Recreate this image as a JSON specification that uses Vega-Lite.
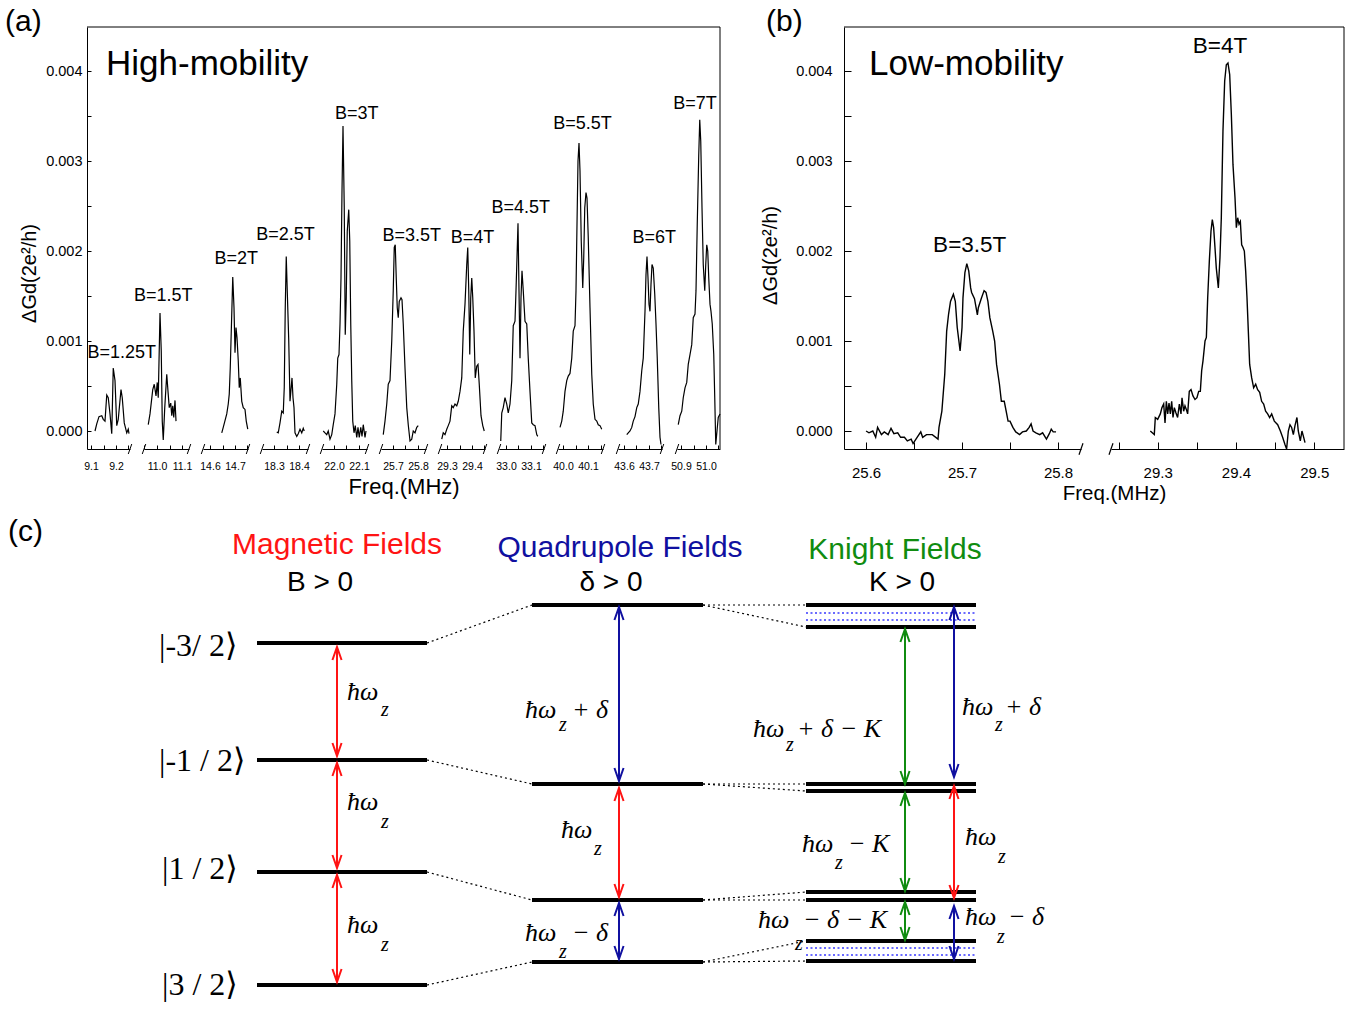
{
  "$schema": "https://vega.github.io/schema/vega-lite/v6.json",
  "padding": {"left": 5, "top": 6, "right": 0, "bottom": 0},
  "background": "white",
  "config": {
    "font": "Liberation Sans",
    "view": {"stroke": null},
    "axis": {"grid": false, "domainColor": "#000", "tickColor": "#000", "labelColor": "#000", "titleColor": "#000", "labelFlush": false, "labelOverlap": false, "titleFontWeight": "normal", "domainWidth": 1, "tickWidth": 1, "labelFont": "Liberation Sans", "titleFont": "Liberation Sans"},
    "axisX": {"tickSize": -4, "labelPadding": 16, "labelFontSize": 10.5},
    "title": {"fontSize": 30, "fontWeight": "normal", "anchor": "start", "frame": "group", "color": "#000", "offset": -10, "baseline": "alphabetic", "font": "Liberation Sans"}
  },
  "datasets": {
    "frameA": [
      {"kind":"frame","x":0,"x2":1,"v":0.00449,"v2":0.00449},
      {"kind":"frame","x":1,"x2":1,"v":-0.0002,"v2":0.00449},
      {"kind":"title","x":0.03,"v":0.00408,"t":"High-mobility"}
    ],
    "frameB": [
      {"kind":"frame","x":0,"x2":1,"v":0.00449,"v2":0.00449},
      {"kind":"frame","x":1,"x2":1,"v":-0.0002,"v2":0.00449},
      {"kind":"title","x":0.05,"v":0.00408,"t":"Low-mobility"}
    ],
    "specA": [
      {"B":"1.25","f":9.116,"v":0},{"B":"1.25","f":9.123,"v":0.00008},{"B":"1.25","f":9.132,"v":0.00016},{"B":"1.25","f":9.143,"v":0.00017},{"B":"1.25","f":9.149,"v":0.00013},{"B":"1.25","f":9.156,"v":0.00011},{"B":"1.25","f":9.163,"v":0.0004},{"B":"1.25","f":9.169,"v":0.00037},{"B":"1.25","f":9.176,"v":0.00019},{"B":"1.25","f":9.183,"v":-0.00003},{"B":"1.25","f":9.189,"v":0.0007},{"B":"1.25","f":9.196,"v":0.00056},{"B":"1.25","f":9.203,"v":0.00006},{"B":"1.25","f":9.209,"v":0.00013},{"B":"1.25","f":9.22,"v":0.00046},{"B":"1.25","f":9.225,"v":0.00037},{"B":"1.25","f":9.233,"v":0.00009},{"B":"1.25","f":9.243,"v":-0.00002},{"B":"1.25","f":9.249,"v":0.00002},{"B":"1.25","f":9.252,"v":-0.00003},
      {"B":"1.5","f":10.965,"v":0.00007},{"B":"1.5","f":10.972,"v":0.00019},{"B":"1.5","f":10.983,"v":0.00046},{"B":"1.5","f":10.989,"v":0.00052},{"B":"1.5","f":10.996,"v":0.00039},{"B":"1.5","f":11.001,"v":0.00054},{"B":"1.5","f":11.005,"v":0.00037},{"B":"1.5","f":11.012,"v":0.00131},{"B":"1.5","f":11.017,"v":0.00089},{"B":"1.5","f":11.021,"v":0.00011},{"B":"1.5","f":11.025,"v":-0.0001},{"B":"1.5","f":11.031,"v":0.00026},{"B":"1.5","f":11.039,"v":0.00063},{"B":"1.5","f":11.044,"v":0.00044},{"B":"1.5","f":11.049,"v":0.00026},{"B":"1.5","f":11.055,"v":0.00031},{"B":"1.5","f":11.059,"v":0.00017},{"B":"1.5","f":11.063,"v":0.00028},{"B":"1.5","f":11.067,"v":0.00015},{"B":"1.5","f":11.072,"v":0.00034},{"B":"1.5","f":11.076,"v":0.00011},
      {"B":"2","f":14.647,"v":-0.00002},{"B":"2","f":14.653,"v":0.00004},{"B":"2","f":14.667,"v":0.00019},{"B":"2","f":14.673,"v":0.0003},{"B":"2","f":14.677,"v":0.00041},{"B":"2","f":14.681,"v":0.0007},{"B":"2","f":14.687,"v":0.0013},{"B":"2","f":14.691,"v":0.00171},{"B":"2","f":14.696,"v":0.00137},{"B":"2","f":14.7,"v":0.00087},{"B":"2","f":14.704,"v":0.00115},{"B":"2","f":14.708,"v":0.00104},{"B":"2","f":14.713,"v":0.00078},{"B":"2","f":14.717,"v":0.00048},{"B":"2","f":14.721,"v":0.00059},{"B":"2","f":14.727,"v":0.00033},{"B":"2","f":14.733,"v":0.00026},{"B":"2","f":14.74,"v":0.00024},{"B":"2","f":14.745,"v":0.00011},{"B":"2","f":14.751,"v":0.00002},
      {"B":"2.5","f":18.311,"v":-0.00001},{"B":"2.5","f":18.317,"v":-0.00002},{"B":"2.5","f":18.324,"v":0.00009},{"B":"2.5","f":18.331,"v":0.00022},{"B":"2.5","f":18.337,"v":0.0002},{"B":"2.5","f":18.341,"v":0.00048},{"B":"2.5","f":18.345,"v":0.00137},{"B":"2.5","f":18.349,"v":0.00194},{"B":"2.5","f":18.353,"v":0.00156},{"B":"2.5","f":18.359,"v":0.001},{"B":"2.5","f":18.364,"v":0.00033},{"B":"2.5","f":18.368,"v":0.00046},{"B":"2.5","f":18.372,"v":0.00059},{"B":"2.5","f":18.376,"v":0.00037},{"B":"2.5","f":18.38,"v":0.00026},{"B":"2.5","f":18.384,"v":-0.00002},{"B":"2.5","f":18.391,"v":-0.00006},{"B":"2.5","f":18.397,"v":-0.00003},{"B":"2.5","f":18.404,"v":0.00002},{"B":"2.5","f":18.411,"v":-0.00002},{"B":"2.5","f":18.417,"v":0.00003},{"B":"2.5","f":18.421,"v":0},
      {"B":"3","f":21.957,"v":0},{"B":"3","f":21.964,"v":-0.00002},{"B":"3","f":21.971,"v":-0.00004},{"B":"3","f":21.977,"v":0},{"B":"3","f":21.984,"v":-0.00009},{"B":"3","f":21.991,"v":-0.00004},{"B":"3","f":21.997,"v":0.00007},{"B":"3","f":22.004,"v":0.00019},{"B":"3","f":22.011,"v":0.00052},{"B":"3","f":22.015,"v":0.00081},{"B":"3","f":22.02,"v":0.00085},{"B":"3","f":22.024,"v":0.00119},{"B":"3","f":22.028,"v":0.0017},{"B":"3","f":22.032,"v":0.00267},{"B":"3","f":22.036,"v":0.00339},{"B":"3","f":22.041,"v":0.00248},{"B":"3","f":22.045,"v":0.00107},{"B":"3","f":22.049,"v":0.00148},{"B":"3","f":22.053,"v":0.00222},{"B":"3","f":22.059,"v":0.00246},{"B":"3","f":22.063,"v":0.00211},{"B":"3","f":22.067,"v":0.00119},{"B":"3","f":22.071,"v":0.00056},{"B":"3","f":22.075,"v":0.00011},{"B":"3","f":22.08,"v":-0.00002},{"B":"3","f":22.085,"v":0.00006},{"B":"3","f":22.091,"v":-0.00007},{"B":"3","f":22.096,"v":0.00004},{"B":"3","f":22.101,"v":-0.00007},{"B":"3","f":22.107,"v":0.00004},{"B":"3","f":22.112,"v":-0.00006},{"B":"3","f":22.117,"v":0.00007},{"B":"3","f":22.124,"v":-0.00007},{"B":"3","f":22.128,"v":0},
      {"B":"3.5","f":25.661,"v":-0.00004},{"B":"3.5","f":25.668,"v":0.00011},{"B":"3.5","f":25.675,"v":0.0003},{"B":"3.5","f":25.681,"v":0.00052},{"B":"3.5","f":25.688,"v":0.00056},{"B":"3.5","f":25.695,"v":0.001},{"B":"3.5","f":25.701,"v":0.00156},{"B":"3.5","f":25.705,"v":0.00204},{"B":"3.5","f":25.709,"v":0.00207},{"B":"3.5","f":25.713,"v":0.0017},{"B":"3.5","f":25.717,"v":0.00137},{"B":"3.5","f":25.721,"v":0.00126},{"B":"3.5","f":25.725,"v":0.00144},{"B":"3.5","f":25.732,"v":0.00148},{"B":"3.5","f":25.736,"v":0.00146},{"B":"3.5","f":25.741,"v":0.00119},{"B":"3.5","f":25.748,"v":0.0007},{"B":"3.5","f":25.755,"v":0.00026},{"B":"3.5","f":25.761,"v":0.00007},{"B":"3.5","f":25.768,"v":-0.00011},{"B":"3.5","f":25.775,"v":-0.00009},{"B":"3.5","f":25.781,"v":0},{"B":"3.5","f":25.788,"v":-0.00002},{"B":"3.5","f":25.795,"v":0.00004},{"B":"3.5","f":25.801,"v":0.00006},
      {"B":"4","f":29.279,"v":-0.00009},{"B":"4","f":29.285,"v":-0.00002},{"B":"4","f":29.292,"v":-0.00004},{"B":"4","f":29.299,"v":0.00002},{"B":"4","f":29.305,"v":0.00006},{"B":"4","f":29.312,"v":0.00011},{"B":"4","f":29.319,"v":0.00028},{"B":"4","f":29.325,"v":0.00026},{"B":"4","f":29.332,"v":0.0003},{"B":"4","f":29.339,"v":0.00028},{"B":"4","f":29.345,"v":0.00033},{"B":"4","f":29.352,"v":0.00044},{"B":"4","f":29.359,"v":0.00059},{"B":"4","f":29.365,"v":0.00111},{"B":"4","f":29.372,"v":0.00141},{"B":"4","f":29.379,"v":0.00185},{"B":"4","f":29.383,"v":0.00204},{"B":"4","f":29.387,"v":0.00156},{"B":"4","f":29.391,"v":0.00085},{"B":"4","f":29.395,"v":0.00148},{"B":"4","f":29.399,"v":0.0017},{"B":"4","f":29.403,"v":0.00148},{"B":"4","f":29.408,"v":0.00111},{"B":"4","f":29.413,"v":0.00059},{"B":"4","f":29.419,"v":0.00072},{"B":"4","f":29.424,"v":0.00074},{"B":"4","f":29.429,"v":0.00052},{"B":"4","f":29.436,"v":0.00017},{"B":"4","f":29.443,"v":0.00006},{"B":"4","f":29.449,"v":0},
      {"B":"4.5","f":32.979,"v":-0.00011},{"B":"4.5","f":32.983,"v":0.0002},{"B":"4.5","f":32.989,"v":0.00026},{"B":"4.5","f":32.996,"v":0.00037},{"B":"4.5","f":33.003,"v":0.0003},{"B":"4.5","f":33.009,"v":0.0002},{"B":"4.5","f":33.016,"v":0.0003},{"B":"4.5","f":33.023,"v":0.00056},{"B":"4.5","f":33.029,"v":0.00117},{"B":"4.5","f":33.036,"v":0.00122},{"B":"4.5","f":33.04,"v":0.00156},{"B":"4.5","f":33.044,"v":0.00193},{"B":"4.5","f":33.048,"v":0.00231},{"B":"4.5","f":33.052,"v":0.00156},{"B":"4.5","f":33.056,"v":0.00081},{"B":"4.5","f":33.06,"v":0.00148},{"B":"4.5","f":33.064,"v":0.00178},{"B":"4.5","f":33.069,"v":0.00156},{"B":"4.5","f":33.076,"v":0.00122},{"B":"4.5","f":33.083,"v":0.00119},{"B":"4.5","f":33.089,"v":0.00081},{"B":"4.5","f":33.096,"v":0.00044},{"B":"4.5","f":33.103,"v":0.00009},{"B":"4.5","f":33.109,"v":0.00007},{"B":"4.5","f":33.116,"v":0.00006},{"B":"4.5","f":33.123,"v":-0.00004},{"B":"4.5","f":33.127,"v":-0.00006},
      {"B":"5.5","f":39.988,"v":0.00004},{"B":"5.5","f":39.995,"v":0.00011},{"B":"5.5","f":40.001,"v":0.00022},{"B":"5.5","f":40.008,"v":0.00044},{"B":"5.5","f":40.015,"v":0.00056},{"B":"5.5","f":40.021,"v":0.00061},{"B":"5.5","f":40.028,"v":0.00064},{"B":"5.5","f":40.035,"v":0.00081},{"B":"5.5","f":40.041,"v":0.00111},{"B":"5.5","f":40.048,"v":0.00117},{"B":"5.5","f":40.052,"v":0.00156},{"B":"5.5","f":40.056,"v":0.0023},{"B":"5.5","f":40.06,"v":0.003},{"B":"5.5","f":40.064,"v":0.0032},{"B":"5.5","f":40.068,"v":0.00289},{"B":"5.5","f":40.073,"v":0.00211},{"B":"5.5","f":40.079,"v":0.00159},{"B":"5.5","f":40.083,"v":0.00193},{"B":"5.5","f":40.087,"v":0.00248},{"B":"5.5","f":40.092,"v":0.00265},{"B":"5.5","f":40.096,"v":0.00259},{"B":"5.5","f":40.101,"v":0.00215},{"B":"5.5","f":40.108,"v":0.00137},{"B":"5.5","f":40.115,"v":0.00063},{"B":"5.5","f":40.121,"v":0.0003},{"B":"5.5","f":40.128,"v":0.00013},{"B":"5.5","f":40.135,"v":0.00011},{"B":"5.5","f":40.141,"v":0.00007},{"B":"5.5","f":40.148,"v":0.00006},{"B":"5.5","f":40.155,"v":0.00002},
      {"B":"6","f":43.611,"v":-0.00004},{"B":"6","f":43.617,"v":-0.00002},{"B":"6","f":43.624,"v":0},{"B":"6","f":43.631,"v":0.00004},{"B":"6","f":43.637,"v":0.00011},{"B":"6","f":43.644,"v":0.00016},{"B":"6","f":43.651,"v":0.00026},{"B":"6","f":43.657,"v":0.0003},{"B":"6","f":43.664,"v":0.00044},{"B":"6","f":43.671,"v":0.00067},{"B":"6","f":43.677,"v":0.00081},{"B":"6","f":43.684,"v":0.00133},{"B":"6","f":43.688,"v":0.00174},{"B":"6","f":43.692,"v":0.00194},{"B":"6","f":43.696,"v":0.0017},{"B":"6","f":43.7,"v":0.00141},{"B":"6","f":43.704,"v":0.00133},{"B":"6","f":43.708,"v":0.00163},{"B":"6","f":43.712,"v":0.00185},{"B":"6","f":43.717,"v":0.00181},{"B":"6","f":43.723,"v":0.00152},{"B":"6","f":43.728,"v":0.00119},{"B":"6","f":43.733,"v":0.00081},{"B":"6","f":43.739,"v":0.00026},{"B":"6","f":43.744,"v":-0.00007},{"B":"6","f":43.748,"v":-0.00015},
      {"B":"7","f":50.889,"v":0.00007},{"B":"7","f":50.896,"v":0.00017},{"B":"7","f":50.903,"v":0.00022},{"B":"7","f":50.909,"v":0.00037},{"B":"7","f":50.916,"v":0.00048},{"B":"7","f":50.923,"v":0.00054},{"B":"7","f":50.929,"v":0.00074},{"B":"7","f":50.936,"v":0.00085},{"B":"7","f":50.943,"v":0.00096},{"B":"7","f":50.949,"v":0.00126},{"B":"7","f":50.956,"v":0.0013},{"B":"7","f":50.96,"v":0.00156},{"B":"7","f":50.965,"v":0.0023},{"B":"7","f":50.971,"v":0.00307},{"B":"7","f":50.975,"v":0.00346},{"B":"7","f":50.979,"v":0.00322},{"B":"7","f":50.984,"v":0.00248},{"B":"7","f":50.989,"v":0.00185},{"B":"7","f":50.995,"v":0.00156},{"B":"7","f":50.999,"v":0.00185},{"B":"7","f":51.003,"v":0.00207},{"B":"7","f":51.007,"v":0.002},{"B":"7","f":51.011,"v":0.0017},{"B":"7","f":51.016,"v":0.00141},{"B":"7","f":51.02,"v":0.00133},{"B":"7","f":51.025,"v":0.00119},{"B":"7","f":51.031,"v":0.00085},{"B":"7","f":51.035,"v":0.00037},{"B":"7","f":51.039,"v":-0.00015},{"B":"7","f":51.044,"v":0},{"B":"7","f":51.049,"v":0.00015},{"B":"7","f":51.056,"v":0.00019}
    ],
    "labA": [
      {"B":"1.25","f":9.223,"v":0.00087,"t":"B=1.25T"},{"B":"1.5","f":11.025,"v":0.0015,"t":"B=1.5T"},{"B":"2","f":14.705,"v":0.00191,"t":"B=2T"},{"B":"2.5","f":18.346,"v":0.00218,"t":"B=2.5T"},{"B":"3","f":22.091,"v":0.00352,"t":"B=3T"},{"B":"3.5","f":25.775,"v":0.00217,"t":"B=3.5T"},{"B":"4","f":29.402,"v":0.00215,"t":"B=4T"},{"B":"4.5","f":33.059,"v":0.00248,"t":"B=4.5T"},{"B":"5.5","f":40.078,"v":0.00341,"t":"B=5.5T"},{"B":"6","f":43.721,"v":0.00215,"t":"B=6T"},{"B":"7","f":50.956,"v":0.00363,"t":"B=7T"}
    ],
    "brkA": [
      {"B":"1.25","f":9.256,"v":-0.0002},{"B":"1.5","f":10.948,"v":-0.0002},{"B":"1.5","f":11.128,"v":-0.0002},{"B":"2","f":14.572,"v":-0.0002},{"B":"2","f":14.752,"v":-0.0002},{"B":"2.5","f":18.252,"v":-0.0002},{"B":"2.5","f":18.436,"v":-0.0002},{"B":"3","f":21.952,"v":-0.0002},{"B":"3","f":22.132,"v":-0.0002},{"B":"3.5","f":25.652,"v":-0.0002},{"B":"3.5","f":25.832,"v":-0.0002},{"B":"4","f":29.272,"v":-0.0002},{"B":"4","f":29.452,"v":-0.0002},{"B":"4.5","f":32.972,"v":-0.0002},{"B":"4.5","f":33.152,"v":-0.0002},{"B":"5.5","f":39.98,"v":-0.0002},{"B":"5.5","f":40.16,"v":-0.0002},{"B":"6","f":43.576,"v":-0.0002},{"B":"6","f":43.752,"v":-0.0002},{"B":"7","f":50.884,"v":-0.0002}
    ],
    "specB": [
      {"B":"3.5","f":25.6,"v":0},{"B":"3.5","f":25.603,"v":-0.00002},{"B":"3.5","f":25.607,"v":0},{"B":"3.5","f":25.61,"v":-0.00007},{"B":"3.5","f":25.612,"v":0.00004},{"B":"3.5","f":25.616,"v":-0.00004},{"B":"3.5","f":25.619,"v":-0.00001},{"B":"3.5","f":25.623,"v":-0.00004},{"B":"3.5","f":25.626,"v":0.00003},{"B":"3.5","f":25.629,"v":-0.00003},{"B":"3.5","f":25.633,"v":-0.00002},{"B":"3.5","f":25.636,"v":-0.00007},{"B":"3.5","f":25.64,"v":-0.00007},{"B":"3.5","f":25.643,"v":-0.00011},{"B":"3.5","f":25.647,"v":-0.00009},{"B":"3.5","f":25.649,"v":-0.00014},{"B":"3.5","f":25.652,"v":-0.00009},{"B":"3.5","f":25.657,"v":-0.00001},{"B":"3.5","f":25.659,"v":-0.00007},{"B":"3.5","f":25.663,"v":-0.00004},{"B":"3.5","f":25.666,"v":-0.00004},{"B":"3.5","f":25.669,"v":-0.00004},{"B":"3.5","f":25.675,"v":-0.00009},{"B":"3.5","f":25.676,"v":0.00004},{"B":"3.5","f":25.679,"v":0.00022},{"B":"3.5","f":25.682,"v":0.00063},{"B":"3.5","f":25.684,"v":0.00111},{"B":"3.5","f":25.686,"v":0.0013},{"B":"3.5","f":25.688,"v":0.00144},{"B":"3.5","f":25.691,"v":0.00152},{"B":"3.5","f":25.693,"v":0.00144},{"B":"3.5","f":25.695,"v":0.00115},{"B":"3.5","f":25.698,"v":0.00089},{"B":"3.5","f":25.7,"v":0.00115},{"B":"3.5","f":25.701,"v":0.00148},{"B":"3.5","f":25.703,"v":0.00176},{"B":"3.5","f":25.705,"v":0.00186},{"B":"3.5","f":25.707,"v":0.00178},{"B":"3.5","f":25.709,"v":0.00159},{"B":"3.5","f":25.71,"v":0.00154},{"B":"3.5","f":25.713,"v":0.00147},{"B":"3.5","f":25.716,"v":0.00129},{"B":"3.5","f":25.717,"v":0.00137},{"B":"3.5","f":25.72,"v":0.00147},{"B":"3.5","f":25.723,"v":0.00156},{"B":"3.5","f":25.725,"v":0.00154},{"B":"3.5","f":25.727,"v":0.00144},{"B":"3.5","f":25.729,"v":0.00126},{"B":"3.5","f":25.732,"v":0.00111},{"B":"3.5","f":25.734,"v":0.001},{"B":"3.5","f":25.736,"v":0.00074},{"B":"3.5","f":25.739,"v":0.00052},{"B":"3.5","f":25.741,"v":0.00033},{"B":"3.5","f":25.744,"v":0.00033},{"B":"3.5","f":25.746,"v":0.00022},{"B":"3.5","f":25.748,"v":0.00011},{"B":"3.5","f":25.75,"v":0.00011},{"B":"3.5","f":25.753,"v":0.00004},{"B":"3.5","f":25.756,"v":-0.00001},{"B":"3.5","f":25.76,"v":-0.00004},{"B":"3.5","f":25.763,"v":-0.00001},{"B":"3.5","f":25.767,"v":0},{"B":"3.5","f":25.77,"v":0.00004},{"B":"3.5","f":25.772,"v":0.00008},{"B":"3.5","f":25.774,"v":0},{"B":"3.5","f":25.777,"v":-0.00002},{"B":"3.5","f":25.781,"v":-0.00004},{"B":"3.5","f":25.784,"v":-0.00002},{"B":"3.5","f":25.788,"v":-0.00009},{"B":"3.5","f":25.791,"v":-0.00003},{"B":"3.5","f":25.793,"v":0.00002},{"B":"3.5","f":25.795,"v":-0.00001},{"B":"3.5","f":25.798,"v":-0.00001},
      {"B":"4","f":29.2906,"v":0},{"B":"4","f":29.2957,"v":-0.00004},{"B":"4","f":29.297,"v":0.00015},{"B":"4","f":29.3,"v":0.00013},{"B":"4","f":29.3034,"v":0.00019},{"B":"4","f":29.3055,"v":0.00026},{"B":"4","f":29.3077,"v":0.0003},{"B":"4","f":29.3094,"v":0.00009},{"B":"4","f":29.3111,"v":0.00033},{"B":"4","f":29.3128,"v":0.00019},{"B":"4","f":29.3145,"v":0.00031},{"B":"4","f":29.3162,"v":0.00019},{"B":"4","f":29.3179,"v":0.00033},{"B":"4","f":29.3196,"v":0.00015},{"B":"4","f":29.3213,"v":0.00026},{"B":"4","f":29.3234,"v":0.0002},{"B":"4","f":29.3255,"v":0.00015},{"B":"4","f":29.3277,"v":0.0003},{"B":"4","f":29.3298,"v":0.00019},{"B":"4","f":29.3311,"v":0.00037},{"B":"4","f":29.3332,"v":0.00022},{"B":"4","f":29.3349,"v":0.00028},{"B":"4","f":29.3366,"v":0.00024},{"B":"4","f":29.3383,"v":0.00019},{"B":"4","f":29.3404,"v":0.00044},{"B":"4","f":29.3426,"v":0.00046},{"B":"4","f":29.3451,"v":0.00039},{"B":"4","f":29.3477,"v":0.00035},{"B":"4","f":29.3502,"v":0.00037},{"B":"4","f":29.3524,"v":0.00044},{"B":"4","f":29.3545,"v":0.00044},{"B":"4","f":29.3562,"v":0.00067},{"B":"4","f":29.3579,"v":0.00078},{"B":"4","f":29.3605,"v":0.001},{"B":"4","f":29.3622,"v":0.00104},{"B":"4","f":29.3639,"v":0.00148},{"B":"4","f":29.366,"v":0.00189},{"B":"4","f":29.3681,"v":0.00222},{"B":"4","f":29.3698,"v":0.00235},{"B":"4","f":29.3715,"v":0.00226},{"B":"4","f":29.3732,"v":0.00204},{"B":"4","f":29.3749,"v":0.00181},{"B":"4","f":29.3775,"v":0.00159},{"B":"4","f":29.3796,"v":0.00193},{"B":"4","f":29.3813,"v":0.00237},{"B":"4","f":29.3834,"v":0.00333},{"B":"4","f":29.3856,"v":0.00389},{"B":"4","f":29.3877,"v":0.00407},{"B":"4","f":29.3898,"v":0.00409},{"B":"4","f":29.392,"v":0.00396},{"B":"4","f":29.3941,"v":0.00352},{"B":"4","f":29.3962,"v":0.00296},{"B":"4","f":29.3988,"v":0.00259},{"B":"4","f":29.4005,"v":0.00226},{"B":"4","f":29.4022,"v":0.00237},{"B":"4","f":29.4039,"v":0.0023},{"B":"4","f":29.4056,"v":0.00233},{"B":"4","f":29.4073,"v":0.00207},{"B":"4","f":29.409,"v":0.00204},{"B":"4","f":29.4107,"v":0.002},{"B":"4","f":29.4124,"v":0.00178},{"B":"4","f":29.4141,"v":0.00148},{"B":"4","f":29.4158,"v":0.00111},{"B":"4","f":29.4175,"v":0.00074},{"B":"4","f":29.4201,"v":0.00059},{"B":"4","f":29.4226,"v":0.00048},{"B":"4","f":29.4252,"v":0.00052},{"B":"4","f":29.4277,"v":0.00046},{"B":"4","f":29.4303,"v":0.00043},{"B":"4","f":29.4328,"v":0.00033},{"B":"4","f":29.4354,"v":0.0003},{"B":"4","f":29.4379,"v":0.00022},{"B":"4","f":29.4405,"v":0.00019},{"B":"4","f":29.443,"v":0.00015},{"B":"4","f":29.4456,"v":0.00019},{"B":"4","f":29.449,"v":0.00011},{"B":"4","f":29.4533,"v":0.00007},{"B":"4","f":29.4567,"v":0},{"B":"4","f":29.4596,"v":-0.00007},{"B":"4","f":29.4626,"v":-0.00015},{"B":"4","f":29.4647,"v":-0.0002},{"B":"4","f":29.4669,"v":0},{"B":"4","f":29.469,"v":0.00007},{"B":"4","f":29.4711,"v":0.00004},{"B":"4","f":29.4733,"v":-0.00004},{"B":"4","f":29.4754,"v":0.00006},{"B":"4","f":29.4779,"v":0.00015},{"B":"4","f":29.4796,"v":0},{"B":"4","f":29.4822,"v":-0.00011},{"B":"4","f":29.4843,"v":0},{"B":"4","f":29.4865,"v":-0.00007},{"B":"4","f":29.4882,"v":-0.00013}
    ],
    "labB": [
      {"B":"3.5","f":25.708,"v":0.00207,"t":"B=3.5T"},{"B":"4","f":29.3796,"v":0.00428,"t":"B=4T"}
    ],
    "brkB": [
      {"B":"3.5","f":25.824,"v":-0.0002},{"B":"4","f":29.2404,"v":-0.0002}
    ],
    "levels": [
      {"x1":25.7,"x2":42.7,"e":36.8},{"x1":25.7,"x2":42.7,"e":25.1},{"x1":25.7,"x2":42.7,"e":13.9},{"x1":25.7,"x2":42.7,"e":2.6},
      {"x1":53.2,"x2":70.3,"e":40.6},{"x1":53.2,"x2":70.3,"e":22.7},{"x1":53.2,"x2":70.3,"e":11.1},{"x1":53.2,"x2":70.3,"e":4.9},
      {"x1":80.6,"x2":97.6,"e":40.6},{"x1":80.6,"x2":97.6,"e":38.4},{"x1":80.6,"x2":97.6,"e":22.7},{"x1":80.6,"x2":97.6,"e":22.0},{"x1":80.6,"x2":97.6,"e":11.9},{"x1":80.6,"x2":97.6,"e":11.1},{"x1":80.6,"x2":97.6,"e":7.0},{"x1":80.6,"x2":97.6,"e":5.0}
    ],
    "sublevels": [
      {"x1":80.6,"x2":97.6,"e":39.8},{"x1":80.6,"x2":97.6,"e":39.1},{"x1":80.6,"x2":97.6,"e":6.3},{"x1":80.6,"x2":97.6,"e":5.6}
    ],
    "links": [
      {"x1":42.7,"e1":36.8,"x2":53.2,"e2":40.6},{"x1":42.7,"e1":25.1,"x2":53.2,"e2":22.7},{"x1":42.7,"e1":13.9,"x2":53.2,"e2":11.1},{"x1":42.7,"e1":2.6,"x2":53.2,"e2":4.9},
      {"x1":70.3,"e1":40.6,"x2":80.6,"e2":40.6},{"x1":70.3,"e1":40.6,"x2":80.6,"e2":38.4},{"x1":70.3,"e1":22.7,"x2":80.6,"e2":22.7},{"x1":70.3,"e1":22.7,"x2":80.6,"e2":22.0},{"x1":70.3,"e1":11.1,"x2":80.6,"e2":11.9},{"x1":70.3,"e1":11.1,"x2":80.6,"e2":11.1},{"x1":70.3,"e1":4.9,"x2":80.6,"e2":7.0},{"x1":70.3,"e1":4.9,"x2":80.6,"e2":5.0}
    ],
    "arrows": [
      {"x":33.7,"hi":36.4,"lo":25.5,"term":"Magnetic"},{"x":33.7,"hi":24.8,"lo":14.3,"term":"Magnetic"},{"x":33.7,"hi":13.6,"lo":2.9,"term":"Magnetic"},
      {"x":61.9,"hi":40.4,"lo":23.0,"term":"Quadrupole"},{"x":61.9,"hi":22.3,"lo":11.4,"term":"Magnetic"},{"x":61.9,"hi":10.8,"lo":5.2,"term":"Quadrupole"},
      {"x":90.5,"hi":38.2,"lo":22.7,"term":"Knight"},{"x":90.5,"hi":21.8,"lo":12.0,"term":"Knight"},{"x":90.5,"hi":10.9,"lo":7.1,"term":"Knight"},
      {"x":95.4,"hi":40.4,"lo":23.4,"term":"Quadrupole"},{"x":95.4,"hi":22.5,"lo":11.3,"term":"Magnetic"},{"x":95.4,"hi":10.5,"lo":5.2,"term":"Quadrupole"}
    ],
    "texts": [
      {"role":"panel","x":0.8,"e":47.9,"t":"(c)"},
      {"role":"header","x":33.7,"e":46.6,"t":"Magnetic Fields","term":"Magnetic"},
      {"role":"header","x":62.0,"e":46.3,"t":"Quadrupole Fields","term":"Quadrupole"},
      {"role":"header","x":89.5,"e":46.1,"t":"Knight Fields","term":"Knight"},
      {"role":"cond","x":32.0,"e":42.8,"t":"B > 0"},
      {"role":"cond","x":61.1,"e":42.8,"t":"δ > 0"},
      {"role":"cond","x":90.2,"e":42.8,"t":"K > 0"},
      {"role":"ket","x":15.9,"e":36.5,"t":"|-3/ 2⟩"},
      {"role":"ket","x":15.9,"e":25.0,"t":"|-1 / 2⟩"},
      {"role":"ket","x":16.2,"e":14.2,"t":"|1 / 2⟩"},
      {"role":"ket","x":16.2,"e":2.6,"t":"|3 / 2⟩"},
      {"role":"hw","x":34.7,"e":31.9,"t":"ħω"},{"role":"hw","x":34.7,"e":20.9,"t":"ħω"},{"role":"hw","x":34.7,"e":8.6,"t":"ħω"},
      {"role":"hw","x":52.5,"e":30.1,"t":"ħω"},{"role":"hw","x":56.1,"e":18.1,"t":"ħω"},{"role":"hw","x":52.5,"e":7.8,"t":"ħω"},
      {"role":"hw","x":75.3,"e":28.2,"t":"ħω"},{"role":"hw","x":96.2,"e":30.4,"t":"ħω"},{"role":"hw","x":80.2,"e":16.7,"t":"ħω"},
      {"role":"hw","x":96.5,"e":17.4,"t":"ħω"},{"role":"hw","x":75.8,"e":9.1,"t":"ħω"},{"role":"hw","x":96.5,"e":9.4,"t":"ħω"},
      {"role":"sub","x":38.1,"e":30.1,"t":"z"},{"role":"sub","x":38.1,"e":18.9,"t":"z"},{"role":"sub","x":38.1,"e":6.6,"t":"z"},
      {"role":"sub","x":55.9,"e":28.6,"t":"z"},{"role":"sub","x":59.4,"e":16.2,"t":"z"},{"role":"sub","x":55.9,"e":5.9,"t":"z"},
      {"role":"sub","x":78.6,"e":26.6,"t":"z"},{"role":"sub","x":99.5,"e":28.6,"t":"z"},{"role":"sub","x":83.5,"e":14.8,"t":"z"},
      {"role":"sub","x":99.8,"e":15.4,"t":"z"},{"role":"sub","x":79.5,"e":6.7,"t":"z"},{"role":"sub","x":99.7,"e":7.4,"t":"z"},
      {"role":"rest","x":57.2,"e":30.1,"t":"+ δ"},{"role":"rest","x":57.2,"e":7.8,"t":"− δ"},{"role":"rest","x":79.7,"e":28.2,"t":"+ δ − K"},
      {"role":"rest","x":100.5,"e":30.4,"t":"+ δ"},{"role":"rest","x":84.8,"e":16.7,"t":"− K"},{"role":"rest","x":80.3,"e":9.1,"t":"− δ − K"},
      {"role":"rest","x":100.8,"e":9.4,"t":"− δ"}
    ]
  },
  "vconcat": [
    {
      "hconcat": [
        {
          "title": {"text": "(a)", "dx": -82},
          "width": 633,
          "height": 422,
          "encoding": {
            "y": {"field": "v", "type": "quantitative", "scale": {"domain": [-0.0002, 0.00449], "nice": false, "zero": false},
              "axis": {"title": "ΔGd(2e²/h)", "titleFontSize": 20, "titlePadding": 6, "titleY": 246, "values": [0, 0.0005, 0.001, 0.0015, 0.002, 0.0025, 0.003, 0.0035, 0.004], "labelExpr": "round(datum.value*10000) % 10 == 0 ? format(datum.value, '.3f') : ''", "labelFontSize": 14.5, "tickSize": -4, "labelPadding": 9}}
          },
          "layer": [
            {
              "data": {"name": "frameA"},
              "encoding": {"x": {"field": "x", "type": "quantitative", "scale": {"domain": [0, 1], "nice": false, "zero": false}, "axis": null}},
              "layer": [
                {"transform": [{"filter": "datum.kind == 'frame'"}], "mark": {"type": "rule", "color": "#000", "strokeWidth": 1}, "encoding": {"x2": {"field": "x2"}, "y2": {"field": "v2"}}},
                {"transform": [{"filter": "datum.kind == 'title'"}], "mark": {"type": "text", "align": "left", "baseline": "middle", "fontSize": 35, "color": "#000"}, "encoding": {"text": {"field": "t"}}}
              ]
            },
            {"encoding": {"x": {"field": "f", "type": "quantitative", "scale": {"domain": [9.084, 9.256], "range": [0, 43], "nice": false, "zero": false}, "axis": {"orient": "bottom", "values": [9.1, 9.15, 9.2, 9.25], "labelExpr": "abs(datum.value*10 - round(datum.value*10)) < 0.001 ? format(datum.value, '.1f') : ''", "title": null}}},
             "layer": [
              {"data": {"name": "specA"}, "transform": [{"filter": "datum.B == '1.25'"}], "mark": {"type": "line", "color": "#000", "strokeWidth": 1.2}},
              {"data": {"name": "labA"}, "transform": [{"filter": "datum.B == '1.25'"}], "mark": {"type": "text", "fontSize": 18, "align": "center", "baseline": "middle", "color": "#000"}, "encoding": {"text": {"field": "t"}}},
              {"data": {"name": "brkA"}, "transform": [{"filter": "datum.B == '1.25'"}], "mark": {"type": "point", "shape": "M -0.35 1 L 0.35 -1", "filled": false, "color": "#000", "size": 100, "strokeWidth": 1, "opacity": 1}}
             ]},
            {"encoding": {"x": {"field": "f", "type": "quantitative", "scale": {"domain": [10.948, 11.128], "range": [57, 102], "nice": false, "zero": false}, "axis": {"orient": "bottom", "values": [10.95, 11.0, 11.05, 11.1], "labelExpr": "abs(datum.value*10 - round(datum.value*10)) < 0.001 ? format(datum.value, '.1f') : ''", "title": null}}},
             "layer": [
              {"data": {"name": "specA"}, "transform": [{"filter": "datum.B == '1.5'"}], "mark": {"type": "line", "color": "#000", "strokeWidth": 1.2}},
              {"data": {"name": "labA"}, "transform": [{"filter": "datum.B == '1.5'"}], "mark": {"type": "text", "fontSize": 18, "align": "center", "baseline": "middle", "color": "#000"}, "encoding": {"text": {"field": "t"}}},
              {"data": {"name": "brkA"}, "transform": [{"filter": "datum.B == '1.5'"}], "mark": {"type": "point", "shape": "M -0.35 1 L 0.35 -1", "filled": false, "color": "#000", "size": 100, "strokeWidth": 1, "opacity": 1}}
             ]},
            {"encoding": {"x": {"field": "f", "type": "quantitative", "scale": {"domain": [14.572, 14.752], "range": [116, 161], "nice": false, "zero": false}, "axis": {"orient": "bottom", "values": [14.6, 14.65, 14.7, 14.75], "labelExpr": "abs(datum.value*10 - round(datum.value*10)) < 0.001 ? format(datum.value, '.1f') : ''", "title": null}}},
             "layer": [
              {"data": {"name": "specA"}, "transform": [{"filter": "datum.B == '2'"}], "mark": {"type": "line", "color": "#000", "strokeWidth": 1.2}},
              {"data": {"name": "labA"}, "transform": [{"filter": "datum.B == '2'"}], "mark": {"type": "text", "fontSize": 18, "align": "center", "baseline": "middle", "color": "#000"}, "encoding": {"text": {"field": "t"}}},
              {"data": {"name": "brkA"}, "transform": [{"filter": "datum.B == '2'"}], "mark": {"type": "point", "shape": "M -0.35 1 L 0.35 -1", "filled": false, "color": "#000", "size": 100, "strokeWidth": 1, "opacity": 1}}
             ]},
            {"encoding": {"x": {"field": "f", "type": "quantitative", "scale": {"domain": [18.252, 18.436], "range": [175, 221], "nice": false, "zero": false}, "axis": {"orient": "bottom", "values": [18.3, 18.35, 18.4], "labelExpr": "abs(datum.value*10 - round(datum.value*10)) < 0.001 ? format(datum.value, '.1f') : ''", "title": null}}},
             "layer": [
              {"data": {"name": "specA"}, "transform": [{"filter": "datum.B == '2.5'"}], "mark": {"type": "line", "color": "#000", "strokeWidth": 1.2}},
              {"data": {"name": "labA"}, "transform": [{"filter": "datum.B == '2.5'"}], "mark": {"type": "text", "fontSize": 18, "align": "center", "baseline": "middle", "color": "#000"}, "encoding": {"text": {"field": "t"}}},
              {"data": {"name": "brkA"}, "transform": [{"filter": "datum.B == '2.5'"}], "mark": {"type": "point", "shape": "M -0.35 1 L 0.35 -1", "filled": false, "color": "#000", "size": 100, "strokeWidth": 1, "opacity": 1}}
             ]},
            {"encoding": {"x": {"field": "f", "type": "quantitative", "scale": {"domain": [21.952, 22.132], "range": [235, 280], "nice": false, "zero": false}, "axis": {"orient": "bottom", "values": [22.0, 22.05, 22.1], "labelExpr": "abs(datum.value*10 - round(datum.value*10)) < 0.001 ? format(datum.value, '.1f') : ''", "title": null}}},
             "layer": [
              {"data": {"name": "specA"}, "transform": [{"filter": "datum.B == '3'"}], "mark": {"type": "line", "color": "#000", "strokeWidth": 1.2}},
              {"data": {"name": "labA"}, "transform": [{"filter": "datum.B == '3'"}], "mark": {"type": "text", "fontSize": 18, "align": "center", "baseline": "middle", "color": "#000"}, "encoding": {"text": {"field": "t"}}},
              {"data": {"name": "brkA"}, "transform": [{"filter": "datum.B == '3'"}], "mark": {"type": "point", "shape": "M -0.35 1 L 0.35 -1", "filled": false, "color": "#000", "size": 100, "strokeWidth": 1, "opacity": 1}}
             ]},
            {"encoding": {"x": {"field": "f", "type": "quantitative", "scale": {"domain": [25.652, 25.832], "range": [294, 339], "nice": false, "zero": false}, "axis": {"orient": "bottom", "values": [25.7, 25.75, 25.8], "labelExpr": "abs(datum.value*10 - round(datum.value*10)) < 0.001 ? format(datum.value, '.1f') : ''", "title": "Freq.(MHz)", "titleFontSize": 22, "titlePadding": 5}}},
             "layer": [
              {"data": {"name": "specA"}, "transform": [{"filter": "datum.B == '3.5'"}], "mark": {"type": "line", "color": "#000", "strokeWidth": 1.2}},
              {"data": {"name": "labA"}, "transform": [{"filter": "datum.B == '3.5'"}], "mark": {"type": "text", "fontSize": 18, "align": "center", "baseline": "middle", "color": "#000"}, "encoding": {"text": {"field": "t"}}},
              {"data": {"name": "brkA"}, "transform": [{"filter": "datum.B == '3.5'"}], "mark": {"type": "point", "shape": "M -0.35 1 L 0.35 -1", "filled": false, "color": "#000", "size": 100, "strokeWidth": 1, "opacity": 1}}
             ]},
            {"encoding": {"x": {"field": "f", "type": "quantitative", "scale": {"domain": [29.272, 29.452], "range": [353, 398], "nice": false, "zero": false}, "axis": {"orient": "bottom", "values": [29.3, 29.35, 29.4, 29.45], "labelExpr": "abs(datum.value*10 - round(datum.value*10)) < 0.001 ? format(datum.value, '.1f') : ''", "title": null}}},
             "layer": [
              {"data": {"name": "specA"}, "transform": [{"filter": "datum.B == '4'"}], "mark": {"type": "line", "color": "#000", "strokeWidth": 1.2}},
              {"data": {"name": "labA"}, "transform": [{"filter": "datum.B == '4'"}], "mark": {"type": "text", "fontSize": 18, "align": "center", "baseline": "middle", "color": "#000"}, "encoding": {"text": {"field": "t"}}},
              {"data": {"name": "brkA"}, "transform": [{"filter": "datum.B == '4'"}], "mark": {"type": "point", "shape": "M -0.35 1 L 0.35 -1", "filled": false, "color": "#000", "size": 100, "strokeWidth": 1, "opacity": 1}}
             ]},
            {"encoding": {"x": {"field": "f", "type": "quantitative", "scale": {"domain": [32.972, 33.152], "range": [412, 457], "nice": false, "zero": false}, "axis": {"orient": "bottom", "values": [33.0, 33.05, 33.1, 33.15], "labelExpr": "abs(datum.value*10 - round(datum.value*10)) < 0.001 ? format(datum.value, '.1f') : ''", "title": null}}},
             "layer": [
              {"data": {"name": "specA"}, "transform": [{"filter": "datum.B == '4.5'"}], "mark": {"type": "line", "color": "#000", "strokeWidth": 1.2}},
              {"data": {"name": "labA"}, "transform": [{"filter": "datum.B == '4.5'"}], "mark": {"type": "text", "fontSize": 18, "align": "center", "baseline": "middle", "color": "#000"}, "encoding": {"text": {"field": "t"}}},
              {"data": {"name": "brkA"}, "transform": [{"filter": "datum.B == '4.5'"}], "mark": {"type": "point", "shape": "M -0.35 1 L 0.35 -1", "filled": false, "color": "#000", "size": 100, "strokeWidth": 1, "opacity": 1}}
             ]},
            {"encoding": {"x": {"field": "f", "type": "quantitative", "scale": {"domain": [39.98, 40.16], "range": [471, 516], "nice": false, "zero": false}, "axis": {"orient": "bottom", "values": [40.0, 40.05, 40.1, 40.15], "labelExpr": "abs(datum.value*10 - round(datum.value*10)) < 0.001 ? format(datum.value, '.1f') : ''", "title": null}}},
             "layer": [
              {"data": {"name": "specA"}, "transform": [{"filter": "datum.B == '5.5'"}], "mark": {"type": "line", "color": "#000", "strokeWidth": 1.2}},
              {"data": {"name": "labA"}, "transform": [{"filter": "datum.B == '5.5'"}], "mark": {"type": "text", "fontSize": 18, "align": "center", "baseline": "middle", "color": "#000"}, "encoding": {"text": {"field": "t"}}},
              {"data": {"name": "brkA"}, "transform": [{"filter": "datum.B == '5.5'"}], "mark": {"type": "point", "shape": "M -0.35 1 L 0.35 -1", "filled": false, "color": "#000", "size": 100, "strokeWidth": 1, "opacity": 1}}
             ]},
            {"encoding": {"x": {"field": "f", "type": "quantitative", "scale": {"domain": [43.576, 43.752], "range": [531, 575], "nice": false, "zero": false}, "axis": {"orient": "bottom", "values": [43.6, 43.65, 43.7, 43.75], "labelExpr": "abs(datum.value*10 - round(datum.value*10)) < 0.001 ? format(datum.value, '.1f') : ''", "title": null}}},
             "layer": [
              {"data": {"name": "specA"}, "transform": [{"filter": "datum.B == '6'"}], "mark": {"type": "line", "color": "#000", "strokeWidth": 1.2}},
              {"data": {"name": "labA"}, "transform": [{"filter": "datum.B == '6'"}], "mark": {"type": "text", "fontSize": 18, "align": "center", "baseline": "middle", "color": "#000"}, "encoding": {"text": {"field": "t"}}},
              {"data": {"name": "brkA"}, "transform": [{"filter": "datum.B == '6'"}], "mark": {"type": "point", "shape": "M -0.35 1 L 0.35 -1", "filled": false, "color": "#000", "size": 100, "strokeWidth": 1, "opacity": 1}}
             ]},
            {"encoding": {"x": {"field": "f", "type": "quantitative", "scale": {"domain": [50.884, 51.056], "range": [590, 633], "nice": false, "zero": false}, "axis": {"orient": "bottom", "values": [50.9, 50.95, 51.0, 51.05], "labelExpr": "abs(datum.value*10 - round(datum.value*10)) < 0.001 ? format(datum.value, '.1f') : ''", "title": null}}},
             "layer": [
              {"data": {"name": "specA"}, "transform": [{"filter": "datum.B == '7'"}], "mark": {"type": "line", "color": "#000", "strokeWidth": 1.2}},
              {"data": {"name": "labA"}, "transform": [{"filter": "datum.B == '7'"}], "mark": {"type": "text", "fontSize": 18, "align": "center", "baseline": "middle", "color": "#000"}, "encoding": {"text": {"field": "t"}}},
              {"data": {"name": "brkA"}, "transform": [{"filter": "datum.B == '7'"}], "mark": {"type": "point", "shape": "M -0.35 1 L 0.35 -1", "filled": false, "color": "#000", "size": 100, "strokeWidth": 1, "opacity": 1}}
             ]}
          ],
          "resolve": {"scale": {"x": "independent"}, "axis": {"x": "independent"}}
        },
        {
          "title": {"text": "(b)", "dx": -78},
          "width": 500,
          "height": 422,
          "encoding": {
            "y": {"field": "v", "type": "quantitative", "scale": {"domain": [-0.0002, 0.00449], "nice": false, "zero": false},
              "axis": {"title": "ΔGd(2e²/h)", "titleFontSize": 20, "titlePadding": 15, "titleY": 228, "values": [0, 0.0005, 0.001, 0.0015, 0.002, 0.0025, 0.003, 0.0035, 0.004], "labelExpr": "round(datum.value*10000) % 10 == 0 ? format(datum.value, '.3f') : ''", "labelFontSize": 14.5, "tickSize": -7, "labelPadding": 19}}
          },
          "layer": [
            {
              "data": {"name": "frameB"},
              "encoding": {"x": {"field": "x", "type": "quantitative", "scale": {"domain": [0, 1], "nice": false, "zero": false}, "axis": null}},
              "layer": [
                {"transform": [{"filter": "datum.kind == 'frame'"}], "mark": {"type": "rule", "color": "#000", "strokeWidth": 1}, "encoding": {"x2": {"field": "x2"}, "y2": {"field": "v2"}}},
                {"transform": [{"filter": "datum.kind == 'title'"}], "mark": {"type": "text", "align": "left", "baseline": "middle", "fontSize": 35, "color": "#000"}, "encoding": {"text": {"field": "t"}}}
              ]
            },
            {"encoding": {"x": {"field": "f", "type": "quantitative", "scale": {"domain": [25.577, 25.824], "range": [0, 237], "nice": false, "zero": false}, "axis": {"orient": "bottom", "values": [25.6, 25.65, 25.7, 25.75, 25.8], "labelExpr": "abs(datum.value*10 - round(datum.value*10)) < 0.001 ? format(datum.value, '.1f') : ''", "tickSize": -7, "labelPadding": 23, "labelFontSize": 15, "title": "Freq.(MHz)", "titleFontSize": 20.5, "titlePadding": 3, "titleX": 270}}},
             "layer": [
              {"data": {"name": "specB"}, "transform": [{"filter": "datum.B == '3.5'"}], "mark": {"type": "line", "color": "#000", "strokeWidth": 1.4}},
              {"data": {"name": "labB"}, "transform": [{"filter": "datum.B == '3.5'"}], "mark": {"type": "text", "fontSize": 22.5, "align": "center", "baseline": "middle", "color": "#000"}, "encoding": {"text": {"field": "t"}}},
              {"data": {"name": "brkB"}, "transform": [{"filter": "datum.B == '3.5'"}], "mark": {"type": "point", "shape": "M -0.35 1 L 0.35 -1", "filled": false, "color": "#000", "size": 130, "strokeWidth": 1.2, "opacity": 1}}
             ]},
            {"encoding": {"x": {"field": "f", "type": "quantitative", "scale": {"domain": [29.2404, 29.538], "range": [267, 500], "nice": false, "zero": false}, "axis": {"orient": "bottom", "values": [29.25, 29.3, 29.35, 29.4, 29.45, 29.5], "labelExpr": "abs(datum.value*10 - round(datum.value*10)) < 0.001 ? format(datum.value, '.1f') : ''", "tickSize": -7, "labelPadding": 23, "labelFontSize": 15, "title": null}}},
             "layer": [
              {"data": {"name": "specB"}, "transform": [{"filter": "datum.B == '4'"}], "mark": {"type": "line", "color": "#000", "strokeWidth": 1.4}},
              {"data": {"name": "labB"}, "transform": [{"filter": "datum.B == '4'"}], "mark": {"type": "text", "fontSize": 22.5, "align": "center", "baseline": "middle", "color": "#000"}, "encoding": {"text": {"field": "t"}}},
              {"data": {"name": "brkB"}, "transform": [{"filter": "datum.B == '4'"}], "mark": {"type": "point", "shape": "M -0.35 1 L 0.35 -1", "filled": false, "color": "#000", "size": 130, "strokeWidth": 1.2, "opacity": 1}}
             ]}
          ],
          "resolve": {"scale": {"x": "independent"}, "axis": {"x": "independent"}}
        }
      ],
      "spacing": 37
    },
    {
      "width": 1275,
      "height": 500,
      "layer": [
        {"data": {"name": "links"}, "mark": {"type": "rule", "color": "#000", "strokeWidth": 1.2, "strokeDash": [2, 3]},
         "encoding": {"x": {"field": "x1", "type": "quantitative", "scale": {"domain": [8.7, 136.2]}, "axis": null}, "x2": {"field": "x2"}, "y": {"field": "e1", "type": "quantitative", "scale": {"domain": [0.4, 50.4]}, "axis": null}, "y2": {"field": "e2"}}},
        {"data": {"name": "sublevels"}, "mark": {"type": "rule", "color": "#3a3aff", "strokeWidth": 1.3, "strokeDash": [2, 2.5]},
         "encoding": {"x": {"field": "x1", "type": "quantitative", "scale": {"domain": [8.7, 136.2]}, "axis": null}, "x2": {"field": "x2"}, "y": {"field": "e", "type": "quantitative", "scale": {"domain": [0.4, 50.4]}, "axis": null}}},
        {"data": {"name": "levels"}, "mark": {"type": "rule", "color": "#000", "strokeWidth": 4},
         "encoding": {"x": {"field": "x1", "type": "quantitative", "scale": {"domain": [8.7, 136.2]}, "axis": null}, "x2": {"field": "x2"}, "y": {"field": "e", "type": "quantitative", "scale": {"domain": [0.4, 50.4]}, "axis": null}}},
        {"data": {"name": "arrows"}, "mark": {"type": "rule", "strokeWidth": 2},
         "encoding": {"x": {"field": "x", "type": "quantitative", "scale": {"domain": [8.7, 136.2]}, "axis": null}, "y": {"field": "hi", "type": "quantitative", "scale": {"domain": [0.4, 50.4]}, "axis": null}, "y2": {"field": "lo"},
           "color": {"field": "term", "type": "nominal", "scale": {"domain": ["Magnetic", "Quadrupole", "Knight"], "range": ["#ff1414", "#1010a0", "#108c10"]}, "legend": null}}},
        {"data": {"name": "arrows"}, "mark": {"type": "point", "shape": "M -0.7 2 L 0 0 L 0.7 2", "filled": false, "size": 170, "strokeWidth": 2, "opacity": 1},
         "encoding": {"x": {"field": "x", "type": "quantitative", "scale": {"domain": [8.7, 136.2]}, "axis": null}, "y": {"field": "hi", "type": "quantitative", "scale": {"domain": [0.4, 50.4]}, "axis": null},
           "color": {"field": "term", "type": "nominal", "scale": {"domain": ["Magnetic", "Quadrupole", "Knight"], "range": ["#ff1414", "#1010a0", "#108c10"]}, "legend": null}}},
        {"data": {"name": "arrows"}, "mark": {"type": "point", "shape": "M -0.7 -2 L 0 0 L 0.7 -2", "filled": false, "size": 170, "strokeWidth": 2, "opacity": 1},
         "encoding": {"x": {"field": "x", "type": "quantitative", "scale": {"domain": [8.7, 136.2]}, "axis": null}, "y": {"field": "lo", "type": "quantitative", "scale": {"domain": [0.4, 50.4]}, "axis": null},
           "color": {"field": "term", "type": "nominal", "scale": {"domain": ["Magnetic", "Quadrupole", "Knight"], "range": ["#ff1414", "#1010a0", "#108c10"]}, "legend": null}}},
        {"data": {"name": "texts"}, "transform": [{"filter": "datum.role == 'header'"}], "mark": {"type": "text", "fontSize": 30, "align": "center", "baseline": "middle"},
         "encoding": {"x": {"field": "x", "type": "quantitative", "scale": {"domain": [8.7, 136.2]}, "axis": null}, "y": {"field": "e", "type": "quantitative", "scale": {"domain": [0.4, 50.4]}, "axis": null}, "text": {"field": "t"},
           "color": {"field": "term", "type": "nominal", "scale": {"domain": ["Magnetic", "Quadrupole", "Knight"], "range": ["#ff1414", "#1010a0", "#108c10"]}, "legend": null}}},
        {"data": {"name": "texts"}, "transform": [{"filter": "datum.role == 'cond'"}], "mark": {"type": "text", "fontSize": 28, "align": "center", "baseline": "middle", "color": "#000"},
         "encoding": {"x": {"field": "x", "type": "quantitative", "scale": {"domain": [8.7, 136.2]}, "axis": null}, "y": {"field": "e", "type": "quantitative", "scale": {"domain": [0.4, 50.4]}, "axis": null}, "text": {"field": "t"}}},
        {"data": {"name": "texts"}, "transform": [{"filter": "datum.role == 'panel'"}], "mark": {"type": "text", "fontSize": 30, "align": "left", "baseline": "middle", "color": "#000"},
         "encoding": {"x": {"field": "x", "type": "quantitative", "scale": {"domain": [8.7, 136.2]}, "axis": null}, "y": {"field": "e", "type": "quantitative", "scale": {"domain": [0.4, 50.4]}, "axis": null}, "text": {"field": "t"}}},
        {"data": {"name": "texts"}, "transform": [{"filter": "datum.role == 'ket'"}], "mark": {"type": "text", "font": "Liberation Serif, DejaVu Serif", "fontSize": 32, "align": "left", "baseline": "middle", "color": "#000"},
         "encoding": {"x": {"field": "x", "type": "quantitative", "scale": {"domain": [8.7, 136.2]}, "axis": null}, "y": {"field": "e", "type": "quantitative", "scale": {"domain": [0.4, 50.4]}, "axis": null}, "text": {"field": "t"}}},
        {"data": {"name": "texts"}, "transform": [{"filter": "datum.role == 'hw' || datum.role == 'rest'"}], "mark": {"type": "text", "font": "Liberation Serif, DejaVu Serif", "fontStyle": "italic", "fontSize": 26, "align": "left", "baseline": "middle", "color": "#000"},
         "encoding": {"x": {"field": "x", "type": "quantitative", "scale": {"domain": [8.7, 136.2]}, "axis": null}, "y": {"field": "e", "type": "quantitative", "scale": {"domain": [0.4, 50.4]}, "axis": null}, "text": {"field": "t"}}},
        {"data": {"name": "texts"}, "transform": [{"filter": "datum.role == 'sub'"}], "mark": {"type": "text", "font": "Liberation Serif, DejaVu Serif", "fontStyle": "italic", "fontSize": 20, "align": "left", "baseline": "middle", "color": "#000"},
         "encoding": {"x": {"field": "x", "type": "quantitative", "scale": {"domain": [8.7, 136.2]}, "axis": null}, "y": {"field": "e", "type": "quantitative", "scale": {"domain": [0.4, 50.4]}, "axis": null}, "text": {"field": "t"}}}
      ]
    }
  ],
  "spacing": 3
}
